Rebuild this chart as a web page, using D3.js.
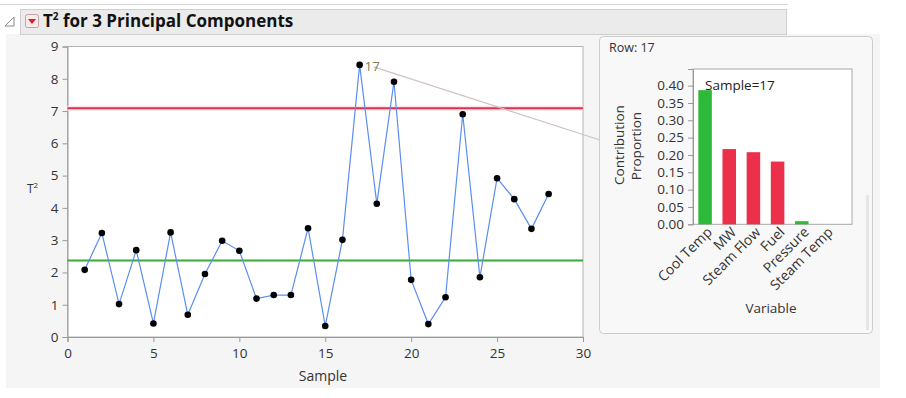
<!DOCTYPE html>
<html>
<head>
<meta charset="utf-8">
<script src="https://cdn.jsdelivr.net/npm/d3@7"></script>
<style>
  body { margin: 0; background: #fff; }
  svg text { font-family: "Open Sans", "Noto Sans", sans-serif; }
</style>
</head>
<body>
<div id="chart"></div>
<script>
// main chart data
const samples = [1,2,3,4,5,6,7,8,9,10,11,12,13,14,15,16,17,18,19,20,21,22,23,24,25,26,27,28];
const t2 = [2.08,3.22,1.02,2.69,0.42,3.24,0.69,1.95,2.98,2.67,1.19,1.30,1.30,3.37,0.34,3.01,8.43,4.13,7.91,1.77,0.40,1.23,6.90,1.85,4.92,4.27,3.35,4.43];
const xTicks = [0,5,10,15,20,25,30];
const yTicks = [0,1,2,3,4,5,6,7,8,9];
const limitUCL = 7.09;
const limitCenter = 2.37;
const labelledRow = 17;

// contribution (row 17)
const variables = ['Cool Temp','MW','Steam Flow','Fuel','Pressure','Steam Temp'];
const contrib = [0.387,0.217,0.208,0.181,0.009,0];
const contribPositive = [true,false,false,false,true,true];
const contribTicks = [0,0.05,0.10,0.15,0.20,0.25,0.30,0.35,0.40];

const W = 906, H = 398;
const svg = d3.select('#chart').append('svg')
  .attr('width', W).attr('height', H);

// page background
svg.append('rect').attr('x', 6).attr('y', 34).attr('width', 874).attr('height', 354)
  .attr('fill', '#f5f5f5');
svg.append('line').attr('x1', 0).attr('x2', 788).attr('y1', 4.5).attr('y2', 4.5)
  .attr('stroke', '#d6d6d6');

// title bar
svg.append('rect').attr('x', 20.5).attr('y', 9.5).attr('width', 766).attr('height', 25)
  .attr('fill', '#ebebeb').attr('stroke', '#cfcfcf');
svg.append('path').attr('d', 'M5,26 L14,17 L14,26 Z')
  .attr('fill', 'none').attr('stroke', '#888').attr('stroke-width', 1);
svg.append('rect').attr('x', 25.5).attr('y', 14.5).attr('width', 13).attr('height', 13).attr('rx', 2)
  .attr('fill', '#fbe9ea').attr('stroke', '#c9a0a4');
svg.append('path').attr('d', 'M28,19 L36,19 L32,24 Z').attr('fill', '#d8202e');
const title = svg.append('text').attr('x', 43).attr('y', 27)
  .attr('font-size', 17).attr('font-weight', 'bold').attr('fill', '#111');
title.append('tspan').text('T');
title.append('tspan').attr('font-size', 10).attr('dy', -7).text('2');
title.append('tspan').attr('dy', 7).text(' for 3 Principal Components');

// main plot
const x = d3.scaleLinear().domain([0, 30]).range([67.5, 583]);
const y = d3.scaleLinear().domain([0, 9]).range([337, 46.5]);

svg.append('rect').attr('x', x(0)).attr('y', y(9)).attr('width', x(30) - x(0)).attr('height', y(0) - y(9))
  .attr('fill', '#fff').attr('stroke', '#b4b4b4');

const xAxis = svg.append('g').attr('transform', `translate(0,${y(0)})`)
  .call(d3.axisBottom(x).tickValues(xTicks).tickSize(5).tickPadding(6));
const yAxis = svg.append('g').attr('transform', `translate(${x(0)},0)`)
  .call(d3.axisLeft(y).tickValues(yTicks).tickSize(5).tickPadding(4));
[xAxis, yAxis].forEach(a => {
  a.select('.domain').attr('stroke', '#999');
  a.selectAll('.tick line').attr('stroke', '#999');
  a.selectAll('.tick text').attr('font-size', 13.5).attr('fill', '#333')
    .attr('font-family', '"Open Sans", sans-serif');
});

svg.append('text').attr('x', 323).attr('y', 381).attr('text-anchor', 'middle')
  .attr('font-size', 14).attr('fill', '#333').text('Sample');
const yl = svg.append('text').attr('x', 27).attr('y', 193).attr('font-size', 12).attr('fill', '#333');
yl.append('tspan').text('T');
yl.append('tspan').attr('font-size', 8).attr('dy', -5).text('2');

// limit lines
svg.append('line').attr('x1', x(0)).attr('x2', x(30)).attr('y1', y(limitUCL)).attr('y2', y(limitUCL))
  .attr('stroke', '#fbe3e6').attr('stroke-width', 5);
svg.append('line').attr('x1', x(0)).attr('x2', x(30)).attr('y1', y(limitUCL)).attr('y2', y(limitUCL))
  .attr('stroke', '#d9334f').attr('stroke-width', 2);
svg.append('line').attr('x1', x(0)).attr('x2', x(30)).attr('y1', y(limitCenter)).attr('y2', y(limitCenter))
  .attr('stroke', '#3aaa3a').attr('stroke-width', 2);

const pts = samples.map((s, i) => ({ s, v: t2[i] }));
svg.append('path').datum(pts)
  .attr('d', d3.line().x(d => x(d.s)).y(d => y(d.v)))
  .attr('fill', 'none').attr('stroke', '#5b8ef0').attr('stroke-width', 1.2);
svg.selectAll('circle.pt').data(pts).enter().append('circle')
  .attr('class', 'pt').attr('cx', d => x(d.s)).attr('cy', d => y(d.v)).attr('r', 3.3).attr('fill', '#000');

// label + leader line
const lab = pts.find(d => d.s === labelledRow);
svg.append('line').attr('x1', x(lab.s) + 14).attr('y1', y(lab.v) + 2).attr('x2', 600).attr('y2', 140)
  .attr('stroke', '#cdc3c0').attr('stroke-width', 1.2);
svg.append('text').attr('x', x(lab.s) + 5).attr('y', y(lab.v) + 6)
  .attr('font-size', 13.5).attr('fill', '#8a7c5a').text(lab.s);

// tooltip panel
svg.append('rect').attr('x', 599.5).attr('y', 36.5).attr('width', 273).attr('height', 297).attr('rx', 4)
  .attr('fill', '#f8f8f8').attr('stroke', '#cccccc');
svg.append('line').attr('x1', 867.5).attr('x2', 867.5).attr('y1', 195).attr('y2', 330)
  .attr('stroke', '#e6e6e6').attr('stroke-width', 3);
svg.append('text').attr('x', 609).attr('y', 52).attr('font-size', 12.5).attr('fill', '#333').text('Row:  17');

const by = d3.scaleLinear().domain([0, 0.448]).range([224.3, 69]);
const bx = d3.scaleBand().domain(variables).range([693, 838]).paddingInner(0.44).paddingOuter(0.22);

svg.append('rect').attr('x', 693).attr('y', 69).attr('width', 159).attr('height', 224.3 - 69)
  .attr('fill', '#fff').attr('stroke', '#a8a8a8');

const bAxis = svg.append('g').attr('transform', 'translate(693,0)')
  .call(d3.axisLeft(by).tickValues(contribTicks).tickFormat(d3.format('.2f')).tickSize(5).tickPadding(4));
bAxis.select('.domain').attr('stroke', '#999');
bAxis.selectAll('.tick line').attr('stroke', '#999');
bAxis.selectAll('.tick text').attr('font-size', 13.5).attr('fill', '#333')
  .attr('font-family', '"Open Sans", sans-serif');

svg.selectAll('rect.bar').data(variables).enter().append('rect')
  .attr('class', 'bar')
  .attr('x', d => bx(d)).attr('width', bx.bandwidth())
  .attr('y', (d, i) => by(contrib[i])).attr('height', (d, i) => by(0) - by(contrib[i]))
  .attr('fill', (d, i) => contribPositive[i] ? '#2fb93a' : '#ec2f4b');

svg.selectAll('text.cat').data(variables).enter().append('text')
  .attr('class', 'cat')
  .attr('transform', d => `translate(${bx(d) + bx.bandwidth() / 2 + 8},${233}) rotate(-45)`)
  .attr('text-anchor', 'end').attr('font-size', 14).attr('fill', '#333').text(d => d);

svg.append('text').attr('x', 705).attr('y', 90).attr('font-size', 13.5).attr('fill', '#222').text('Sample=17');
svg.append('text').attr('x', 771).attr('y', 313).attr('text-anchor', 'middle')
  .attr('font-size', 13.5).attr('fill', '#333').text('Variable');
svg.append('text').attr('transform', 'translate(624,145) rotate(-90)').attr('text-anchor', 'middle')
  .attr('font-size', 13.5).attr('fill', '#333').text('Contribution');
svg.append('text').attr('transform', 'translate(641,146) rotate(-90)').attr('text-anchor', 'middle')
  .attr('font-size', 13.5).attr('fill', '#333').text('Proportion');
</script>
</body>
</html>
